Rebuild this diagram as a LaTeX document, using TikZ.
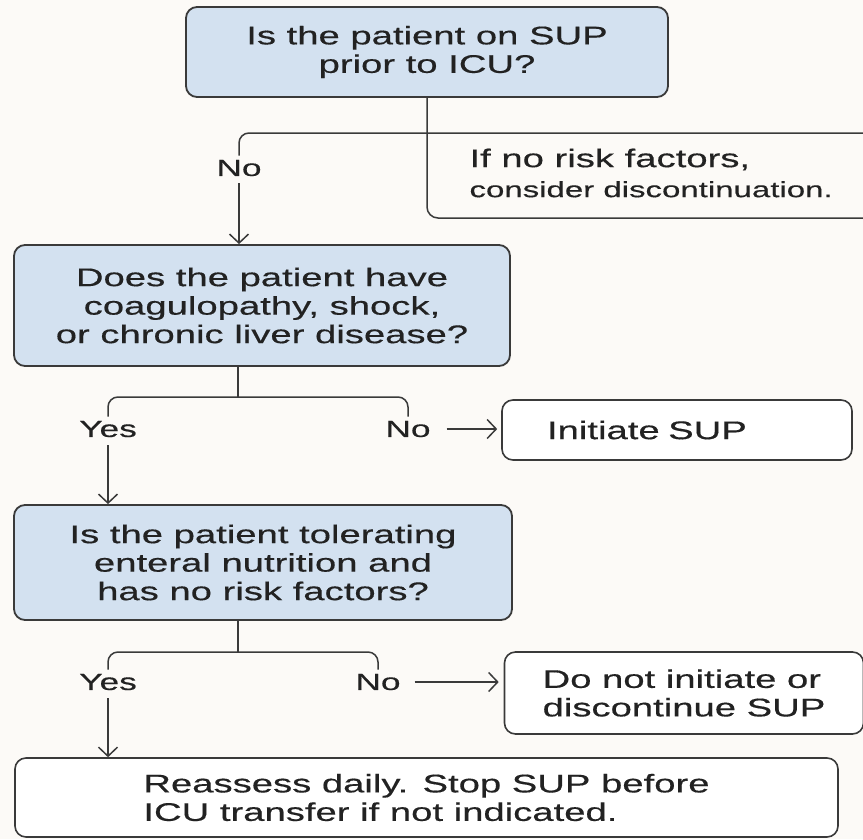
\documentclass[tikz,border=0pt]{standalone}
\usepackage{fontspec}
\setmainfont{Liberation Sans}[FakeStretch=1.5,FakeBold=0.4]
\usetikzlibrary{arrows.meta}
\definecolor{bgpaper}{HTML}{FCFAF7}
\definecolor{qblue}{HTML}{D3E1F0}
\definecolor{edgegray}{HTML}{3A3A3A}
\definecolor{inkgray}{HTML}{222222}
\tikzset{
	question/.style={draw=edgegray, line width=1.8pt, fill=qblue, rounded corners=11pt,
		align=center, text=inkgray, font=\fontsize{25.5}{28.5}\selectfont},
	outcome/.style={draw=edgegray, line width=1.6pt, fill=white, rounded corners=11pt,
		align=left, text=inkgray, font=\fontsize{25.5}{28.5}\selectfont},
	branch/.style={text=inkgray, inner sep=4pt, font=\fontsize{23.5}{26}\selectfont},
	link/.style={draw=edgegray, line width=1.5pt},
	arrowlink/.style={link, -{Straight Barb[length=9pt,width=19pt]}}
}
\begin{document}
\begin{tikzpicture}[x=1pt,y=-1pt]
	\useasboundingbox[fill=bgpaper] (0,0) rectangle (863,839);
	
	% questions
	\node[question, minimum width=482pt, minimum height=90pt] (q1) at (427,52) {Is the patient on SUP\\prior to ICU?};
	\node[question, minimum width=496pt, minimum height=121pt] (q2) at (262,305.5) {Does the patient have\\coagulopathy, shock,\\or chronic liver disease?};
	\node[question, minimum width=498pt, minimum height=115pt] (q3) at (263,562.5) {Is the patient tolerating\\enteral nutrition and\\has no risk factors?};
	
	% outcomes
	\node[outcome, text width=260pt, inner xsep=45pt, minimum height=60pt] (initiate) at (677,430) {Initiate SUP};
	\node[outcome, minimum width=359pt, minimum height=82pt] (donot) at (684,693) {Do not initiate or\\discontinue SUP};
	\node[outcome, minimum width=823pt, minimum height=79pt] (reassess) at (426.5,797.5) {Reassess daily. Stop SUP before\\ICU transfer if not indicated.};
	\node[anchor=west, align=left, text=inkgray, font=\fontsize{25.5}{30}\selectfont] (note) at (466,173) {If no risk factors,\\{\fontsize{22}{30}\selectfont consider discontinuation.}};
	
	% branch labels
	\node[branch] (no1) at (239,168) {No};
	\node[branch] (yes2) at (108,429) {Yes};
	\node[branch] (no2) at (408,429) {No};
	\node[branch] (yes3) at (108,682) {Yes};
	\node[branch] (no3) at (378,682) {No};
	
	\coordinate (notetop) at (863,133);
	\coordinate (notebot) at (863,218);
	\coordinate (fork2) at (238,397);
	\coordinate (fork3) at (238,652);
	
	% first split
	\draw[link, rounded corners=11pt] (q1.south) |- (notebot);
	\draw[link, rounded corners=10pt] (no1.north) |- (notetop);
	\draw[arrowlink, shorten <=3pt] (no1.south) -- (no1.south |- q2.north);
	
	% second split
	\draw[link] (fork2 |- q2.south) -- (fork2);
	\draw[link, rounded corners=10pt] (yes2.north) |- (fork2) -| (no2.north);
	\draw[arrowlink, shorten <=12pt, shorten >=4pt] (no2.east) -- (no2.east -| initiate.west);
	\draw[arrowlink, shorten <=4pt] (yes2.south) -- (yes2.south |- q3.north);
	
	% third split
	\draw[link] (fork3 |- q3.south) -- (fork3);
	\draw[link, rounded corners=10pt] (yes3.north) |- (fork3) -| (no3.north);
	\draw[arrowlink, shorten <=10pt, shorten >=5pt] (no3.east) -- (no3.east -| donot.west);
	\draw[arrowlink, shorten <=4pt] (yes3.south) -- (yes3.south |- reassess.north);
\end{tikzpicture}
\end{document}
